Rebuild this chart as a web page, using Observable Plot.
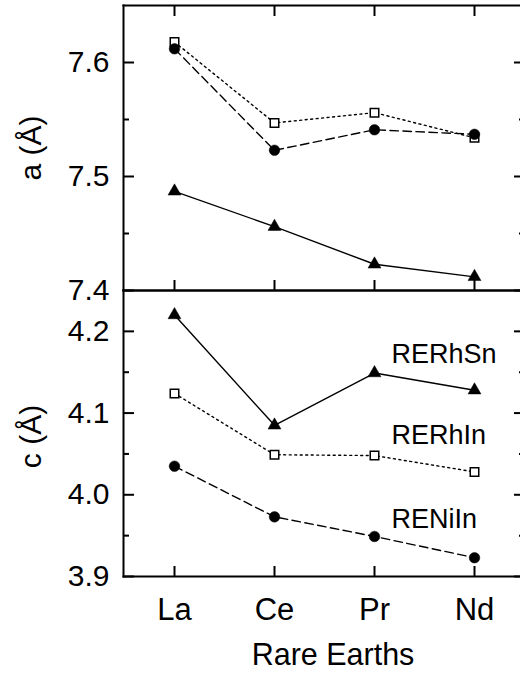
<!DOCTYPE html>
<html>
<head>
<meta charset="utf-8">
<script src="https://cdn.jsdelivr.net/npm/d3@7"></script>
<script src="https://cdn.jsdelivr.net/npm/@observablehq/plot@0.6"></script>
<style>
  html, body { margin: 0; padding: 0; background: white; overflow: hidden; }
  #wrap { width: 520px; height: 677px; overflow: hidden; position: relative; }
  #top { position: absolute; left: 0; top: 0; width: 520px; z-index: 2; }
  #bottom { position: absolute; left: 0; top: 290px; width: 520px; z-index: 1; }
</style>
</head>
<body>
<div id="wrap"><div id="top"></div><div id="bottom"></div></div>
<script>
const categories = ["La", "Ce", "Pr", "Nd"];
const seriesNames = ["RERhSn", "RERhIn", "RENiIn"];
// lattice parameter a (Å)
const aRERhSn = [7.487, 7.456, 7.423, 7.412];
const aRERhIn = [7.618, 7.547, 7.556, 7.534];
const aRENiIn = [7.612, 7.523, 7.541, 7.537];
// lattice parameter c (Å)
const cRERhSn = [4.220, 4.085, 4.149, 4.128];
const cRERhIn = [4.124, 4.049, 4.048, 4.028];
const cRENiIn = [4.035, 3.973, 3.949, 3.923];
// tick values
const aTicks = [7.4, 7.5, 7.6];
const aMinor = [7.45, 7.55];
const cTicks = [3.9, 4.0, 4.1, 4.2];
const cMinor = [3.95, 4.05, 4.15];
// series label anchors (bottom panel)
const labelCategory = "Pr";
const labelValues = [4.172, 4.073, 3.970];

const font = "Liberation Sans, Arial, Helvetica, sans-serif";
const styles = {
  RERhSn: {dash: null, symbol: "triangle", fill: "black", r: 4.8},
  RERhIn: {dash: "2,3.5", symbol: "square", fill: "white", r: 4.8},
  RENiIn: {dash: "8.5,4.5", symbol: "circle", fill: "black", r: 5.3}
};

function rows(vals, name) {
  return categories.map((c, i) => ({cat: c, v: vals[i], s: name}));
}

function seriesMarks(data) {
  const out = [];
  for (const name of seriesNames) {
    const st = styles[name];
    out.push(Plot.line(data[name], {x: "cat", y: "v", stroke: "black", strokeWidth: 1.4, strokeDasharray: st.dash}));
  }
  for (const name of seriesNames) {
    const st = styles[name];
    out.push(Plot.dot(data[name], {x: "cat", y: "v", symbol: st.symbol, r: st.r, fill: st.fill, stroke: "black", strokeWidth: st.fill === "white" ? 1.5 : 0.5}));
  }
  return out;
}

function tickAxes(majors, minors, showXLabels, topTicks) {
  const blank = () => "";
  const m = [
    Plot.axisY({ticks: majors, anchor: "left", tickSize: 0, tickPadding: 14, fontSize: 30, tickFormat: d3.format(".1f"), label: null}),
    Plot.axisY({ticks: majors, anchor: "left", tickSize: 11, dx: 11, strokeWidth: 2, tickFormat: blank, label: null}),
    Plot.axisY({ticks: minors, anchor: "left", tickSize: 6, dx: 6, strokeWidth: 2, tickFormat: blank, label: null}),
    Plot.axisY({ticks: majors, anchor: "right", tickSize: 11, dx: -11, strokeWidth: 2, tickFormat: blank, label: null}),
    Plot.axisY({ticks: minors, anchor: "right", tickSize: 6, dx: -6, strokeWidth: 2, tickFormat: blank, label: null}),
    Plot.axisX({anchor: "bottom", tickSize: 10, dy: -10, strokeWidth: 2, tickFormat: blank, label: null})
  ];
  if (topTicks) m.push(Plot.axisX({anchor: "top", tickSize: 10, dy: 10, strokeWidth: 2, tickFormat: blank, label: null}));
  if (showXLabels) m.push(Plot.axisX({anchor: "bottom", tickSize: 0, tickPadding: 21, fontSize: 31, label: null}));
  return m;
}

function frameSides() {
  return ["left", "top", "bottom"].map(a => Plot.frame({anchor: a, stroke: "black", strokeWidth: 2}));
}

const common = {
  width: 520,
  marginLeft: 123,
  marginRight: -4,
  style: {fontFamily: font, color: "black", background: "transparent", overflow: "visible", maxWidth: "none"},
  x: {type: "point", domain: categories, padding: 0.5}
};

const topData = {RERhSn: rows(aRERhSn, "RERhSn"), RERhIn: rows(aRERhIn, "RERhIn"), RENiIn: rows(aRENiIn, "RENiIn")};
const botData = {RERhSn: rows(cRERhSn, "RERhSn"), RERhIn: rows(cRERhIn, "RERhIn"), RENiIn: rows(cRENiIn, "RENiIn")};

const topPlot = Plot.plot({
  ...common,
  height: 290,
  marginTop: 5,
  marginBottom: 0,
  y: {domain: [7.4, 7.65]},
  marks: [
    ...seriesMarks(topData),
    ...tickAxes(aTicks, aMinor, false, true),
    ...frameSides(),
    Plot.text(["a (Å)"], {frameAnchor: "left", textAnchor: "middle", rotate: -90, dx: -92, fontSize: 30, fill: "black"})
  ]
});

const labelData = seriesNames.map((n, i) => ({name: n, cat: labelCategory, v: labelValues[i]}));

const botPlot = Plot.plot({
  ...common,
  height: 387,
  marginTop: 0,
  marginBottom: 101,
  y: {domain: [3.9, 4.25]},
  marks: [
    ...seriesMarks(botData),
    ...tickAxes(cTicks, cMinor, true, false),
    ...frameSides(),
    Plot.text(labelData, {x: "cat", y: "v", text: "name", textAnchor: "start", lineAnchor: "middle", dx: 17, fontSize: 27, fill: "black"}),
    Plot.text(["c (Å)"], {frameAnchor: "left", textAnchor: "middle", rotate: -90, dx: -92, dy: 3, fontSize: 30, fill: "black"}),
    Plot.text(["Rare Earths"], {frameAnchor: "bottom", textAnchor: "middle", dx: 9, dy: 79, lineAnchor: "middle", fontSize: 30.5, fill: "black"})
  ]
});

document.getElementById("top").appendChild(topPlot);
document.getElementById("bottom").appendChild(botPlot);
</script>
</body>
</html>
